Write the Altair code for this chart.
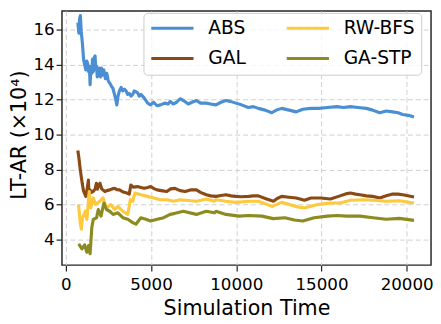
import altair as alt
import pandas as pd

# ---- data ----
abs_x = [700, 760, 800, 850, 900, 960, 1040, 1100, 1170, 1230, 1280, 1330, 1380, 1420, 1470,
         1520, 1560, 1610, 1660, 1710, 1760, 1800, 1840, 1900, 1960, 2030, 2090, 2150, 2220,
         2320, 2400, 2480, 2530, 2600, 2680, 2760, 2850, 2930, 2990, 3060, 3140, 3240, 3330,
         3430, 3530, 3620, 3720, 3820, 3920, 4010, 4100, 4200, 4300, 4400, 4590, 4800, 4970,
         5150, 5350, 5550, 5800, 6000, 6120, 6300, 6500, 6700, 6900, 7180, 7400, 7660, 7900,
         8240, 8500, 8810, 9100, 9390, 9650, 9970, 10300, 10710, 11000, 11290, 11700, 12080,
         12350, 12660, 13100, 13520, 13900, 14380, 14850, 15340, 15900, 16300, 16690, 17150,
         17640, 18000, 18420, 18800, 19180, 19500, 19760, 20100, 20430]
abs_y = [16.4, 15.8, 16.6, 16.8, 15.9, 15.3, 14.3, 14.0, 13.7, 14.2, 14.05, 13.6, 13.9, 12.85, 13.9,
         13.5, 14.3, 13.6, 14.4, 14.5, 13.7, 13.9, 13.3, 13.6, 13.8, 13.3, 13.8, 13.4, 13.7,
         13.2, 13.5, 13.1, 13.0, 12.9, 12.75, 12.65, 12.3, 12.0, 11.7, 12.2, 12.5, 12.7, 12.5,
         12.6, 12.5, 12.3, 12.35, 12.2, 12.3, 12.5, 12.45, 12.4, 12.2, 12.3, 12.1, 11.8, 11.7,
         11.85, 11.65, 11.7, 11.8, 11.75, 11.9, 11.75, 11.85, 12.05, 11.95, 11.75, 11.85, 11.95, 11.8,
         11.8, 11.75, 11.7, 11.85, 11.95, 11.9, 11.8, 11.7, 11.55, 11.6, 11.5, 11.4, 11.25,
         11.4, 11.5, 11.4, 11.3, 11.45, 11.5, 11.5, 11.55, 11.6, 11.55, 11.6, 11.55,
         11.5, 11.4, 11.25, 11.35, 11.3, 11.25, 11.15, 11.1, 11.0]

gal_x = [700, 760, 830, 900, 960, 1030, 1170, 1250, 1320, 1350, 1420, 1500, 1600, 1720, 1790,
         1850, 1920, 2000, 2100, 2290, 2400, 2580, 2720, 2860, 3000, 3150, 3300, 3420, 3580,
         3720, 3810, 3950, 4200, 4400, 4590, 4800, 4970, 5200, 5350, 5600, 5920, 6150, 6400,
         6700, 7000, 7300, 7660, 7900, 8240, 8500, 8810, 9100, 9390, 9700, 9970, 10300, 10730,
         11000, 11300, 11700, 12180, 12400, 12660, 13100, 13520, 14000, 14380, 14950, 15530,
         16000, 16500, 16690, 17000, 17260, 17640, 18000, 18420, 18800, 19180, 19500, 19850, 20430]
gal_y = [9.09, 8.7, 8.1, 7.6, 7.2, 6.8, 6.47, 6.9, 7.4, 6.66, 6.84, 6.7, 6.75, 6.9, 7.22,
         6.88, 7.1, 7.22, 6.9, 6.75, 6.8, 6.84, 6.9, 6.93, 6.85, 6.84, 6.75, 6.7, 6.66,
         6.6, 7.12, 7.0, 7.03, 6.98, 6.93, 6.98, 7.03, 6.9, 6.84, 6.8, 6.75, 6.9, 6.93,
         6.8, 6.75, 6.84, 6.84, 6.7, 6.56, 6.5, 6.47, 6.52, 6.56, 6.5, 6.47, 6.45, 6.47,
         6.5, 6.5, 6.35, 6.19, 6.35, 6.47, 6.42, 6.38, 6.25, 6.38, 6.38, 6.32,
         6.47, 6.63, 6.66, 6.6, 6.56, 6.5, 6.47, 6.38, 6.5, 6.6, 6.6, 6.55, 6.43]

rw_x = [740, 800, 850, 910, 960, 1140, 1230, 1370, 1460, 1610, 1740, 1990, 2180, 2380, 2630,
        2860, 3050, 3340, 3630, 3780, 3920, 4050, 4400, 4780, 5170, 5550, 5940, 6320, 6700,
        7660, 8240, 8720, 8810, 9390, 9970, 10730, 11310, 12100, 12660, 13600, 13990, 14760,
        15530, 16100, 16690, 17460, 18030, 18800, 19570, 20430]
rw_y = [6.0, 5.4, 4.9, 4.6, 5.2, 5.62, 5.16, 6.75, 5.81, 6.38, 6.0, 6.19, 6.38, 5.81, 6.0,
        5.72, 5.9, 5.62, 5.44, 6.28, 6.19, 6.66, 6.56, 6.47, 6.38, 6.28, 6.28, 6.19, 6.28,
        6.19, 6.32, 6.19, 6.28, 6.19, 6.13, 6.19, 6.19, 5.9, 6.13, 5.87, 5.81, 6.0,
        6.09, 6.09, 6.25, 6.28, 6.25, 6.19, 6.22, 6.09]

ga_x = [750, 940, 1100, 1230, 1330, 1420, 1520, 1610, 1800, 1900, 2060, 2230, 2380, 2570, 2770,
        3050, 3340, 3630, 3920, 4110, 4400, 4690, 4970, 5360, 5740, 6120, 6410, 6890, 7660,
        8240, 8720, 8810, 9390, 10160, 10730, 11500, 12170, 12850, 13420, 13900, 14570, 15340,
        15920, 16490, 17260, 18030, 18800, 19570, 20430]
ga_y = [3.75, 3.47, 3.7, 3.28, 3.66, 3.19, 4.69, 5.16, 5.25, 5.72, 5.34, 6.09, 5.72, 5.62, 5.44,
        5.53, 5.25, 5.16, 4.97, 4.88, 5.25, 5.16, 5.06, 5.16, 5.25, 5.44, 5.5, 5.62, 5.44,
        5.62, 5.53, 5.62, 5.44, 5.34, 5.38, 5.34, 5.2, 5.25, 5.12, 5.06, 5.25, 5.34,
        5.38, 5.34, 5.34, 5.25, 5.16, 5.21, 5.1]

legend_order = ["ABS", "GAL", "RW-BFS", "GA-STP"]
legend_colors = ["#4a8fd2", "#8b4a14", "#ffc93d", "#8b8b22"]
x_ticks = [0, 5000, 10000, 15000, 20000]
y_ticks = [4, 6, 8, 10, 12, 14, 16]

rows = []
for name, xs, ys in [("ABS", abs_x, abs_y), ("GAL", gal_x, gal_y),
                     ("RW-BFS", rw_x, rw_y), ("GA-STP", ga_x, ga_y)]:
    for i, (x, y) in enumerate(zip(xs, ys)):
        rows.append({"series": name, "t": x, "v": y, "i": i})
df = pd.DataFrame(rows)

FONT = "DejaVu Sans"

chart = alt.Chart(df).mark_line(strokeWidth=3.2, strokeJoin="round", clip=True).encode(
    x=alt.X("t:Q",
            scale=alt.Scale(domain=[-230, 21430], nice=False, zero=False),
            axis=alt.Axis(values=x_ticks, format="d", title="Simulation Time",
                          labelPadding=6, titleY=50, titleBaseline="alphabetic")),
    y=alt.Y("v:Q",
            scale=alt.Scale(domain=[2.54, 17.07], nice=False, zero=False),
            axis=alt.Axis(values=y_ticks, format="d", title="LT-AR (×10⁴)",
                          labelPadding=2, titleX=-37, titleY=126,
                          titleBaseline="alphabetic", titleAngle=270)),
    color=alt.Color("series:N",
                    scale=alt.Scale(domain=legend_order, range=legend_colors),
                    legend=alt.Legend(title=None, orient="none", legendX=83, legendY=2,
                                      columns=2, columnPadding=35, rowPadding=11,
                                      symbolType="M-1,0H4.733", symbolSize=225,
                                      symbolStrokeWidth=3, labelFontSize=19,
                                      labelFont=FONT, labelColor="#000000",
                                      labelOffset=41, padding=6,
                                      fillColor="rgba(255,255,255,0.8)",
                                      strokeColor="#cccccc", cornerRadius=4)),
    order="i:Q",
).properties(
    width=376, height=259,
    autosize=alt.AutoSizeParams(type="none"),
    padding={"left": 55, "top": 0, "right": 2, "bottom": 57},
).configure_view(
    stroke="#262626", strokeWidth=1.5
).configure_axis(
    labelFont=FONT, labelFontSize=17, labelColor="#000000",
    titleFont=FONT, titleFontSize=21, titleFontWeight="normal", titleColor="#000000",
    domain=False, tickColor="#262626", tickSize=6, tickWidth=1.25,
    grid=True, gridColor="#cfcfcf", gridDash=[5, 3], gridWidth=1,
)

chart.save("out.html", embed_options={"renderer": "svg", "actions": False})
